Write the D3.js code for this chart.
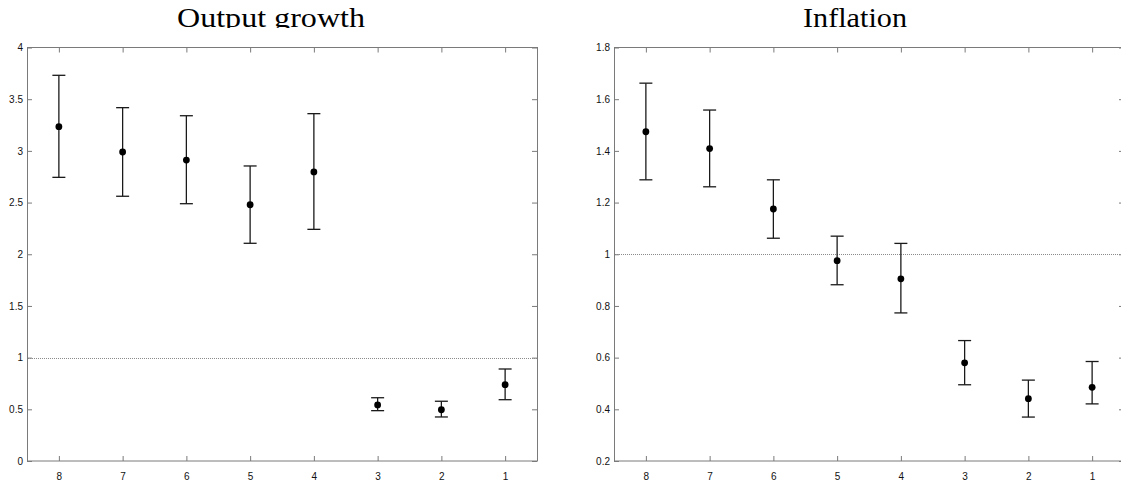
<!DOCTYPE html>
<html>
<head>
<meta charset="utf-8">
<script src="https://cdn.jsdelivr.net/npm/d3@7"></script>
<style>
  html, body { margin: 0; padding: 0; background: #fff; overflow: hidden; }
  svg { display: block; }
</style>
</head>
<body>
<svg id="chart" width="1121" height="485"></svg>
<script>
// ---------- data ----------
const categories = [8, 7, 6, 5, 4, 3, 2, 1];

const outputMean = [3.234, 2.989, 2.911, 2.479, 2.796, 0.542, 0.496, 0.738];
const outputLow  = [2.744, 2.561, 2.489, 2.106, 2.241, 0.487, 0.426, 0.593];
const outputHigh = [3.731, 3.418, 3.340, 2.854, 3.360, 0.612, 0.578, 0.890];

const inflationMean = [1.474, 1.409, 1.175, 0.975, 0.905, 0.580, 0.441, 0.485];
const inflationLow  = [1.288, 1.261, 1.062, 0.882, 0.773, 0.495, 0.370, 0.421];
const inflationHigh = [1.662, 1.558, 1.288, 1.070, 1.042, 0.666, 0.513, 0.585];

const outputTicks = [0, 0.5, 1, 1.5, 2, 2.5, 3, 3.5, 4];
const outputTickLabels = ["0", "0.5", "1", "1.5", "2", "2.5", "3", "3.5", "4"];
const inflationTicks = [0.2, 0.4, 0.6, 0.8, 1, 1.2, 1.4, 1.6, 1.8];
const inflationTickLabels = ["0.2", "0.4", "0.6", "0.8", "1", "1.2", "1.4", "1.6", "1.8"];

const titles = ["Output growth", "Inflation"];
const referenceValue = 1;

// ---------- layout ----------
const svg = d3.select("#chart");
const plotTop = 47.5, plotBottom = 461;
const tickFont = "'Liberation Sans', Arial, Helvetica, sans-serif";

svg.append("defs").append("clipPath").attr("id", "titleClip")
  .append("rect").attr("x", 0).attr("y", 0).attr("width", 1121).attr("height", 28);

function panel(opts) {
  const g = svg.append("g");
  const x = d3.scaleLinear().domain([8.5, 0.5]).range([opts.left, opts.left + opts.width]);
  const y = d3.scaleLinear().domain(opts.yDomain).range([plotBottom, plotTop]);

  // frame
  g.append("rect")
    .attr("x", opts.left + 0.5).attr("y", plotTop)
    .attr("width", opts.width).attr("height", plotBottom - plotTop)
    .attr("fill", "none").attr("stroke", "#7a7a7a").attr("stroke-width", 1);

  const styleAxis = sel => {
    sel.select(".domain").remove();
    sel.selectAll(".tick line").attr("stroke", "#7a7a7a");
    sel.selectAll(".tick text").attr("fill", "#111")
      .style("font-family", tickFont).style("font-size", "10px");
  };

  // bottom axis with labels
  g.append("g").attr("transform", `translate(0,${plotBottom})`)
    .call(d3.axisBottom(x).tickValues(categories).tickSize(-5).tickPadding(12)
      .tickFormat(d => String(d)))
    .call(styleAxis);
  // top axis (ticks only)
  g.append("g").attr("transform", `translate(0,${plotTop})`)
    .call(d3.axisTop(x).tickValues(categories).tickSize(-5).tickFormat(""))
    .call(styleAxis);
  // left axis with labels
  g.append("g").attr("transform", `translate(${opts.left},0)`)
    .call(d3.axisLeft(y).tickValues(opts.ticks).tickSize(-5).tickPadding(4)
      .tickFormat((d, i) => opts.tickLabels[i]))
    .call(styleAxis);
  // right axis (ticks only)
  g.append("g").attr("transform", `translate(${opts.left + opts.width},0)`)
    .call(d3.axisRight(y).tickValues(opts.ticks).tickSize(-5).tickFormat(""))
    .call(styleAxis);

  // reference dotted line
  g.append("line")
    .attr("x1", x.range()[0] + 1).attr("x2", x.range()[1])
    .attr("y1", Math.round(y(referenceValue)) + 0.5).attr("y2", Math.round(y(referenceValue)) + 0.5)
    .attr("stroke", "#8a8a8a").attr("stroke-width", 1).attr("stroke-dasharray", "1,1");

  const rows = categories.map((c, i) => ({c, m: opts.mean[i], lo: opts.low[i], hi: opts.high[i]}));
  const capHalf = 6.5;
  const eb = g.append("g").attr("stroke", "#1a1a1a").attr("stroke-width", 1.3);
  eb.selectAll("line.v").data(rows).join("line").attr("class", "v")
    .attr("x1", d => x(d.c)).attr("x2", d => x(d.c))
    .attr("y1", d => y(d.lo)).attr("y2", d => y(d.hi));
  eb.selectAll("line.top").data(rows).join("line").attr("class", "top")
    .attr("x1", d => x(d.c) - capHalf).attr("x2", d => x(d.c) + capHalf)
    .attr("y1", d => y(d.hi)).attr("y2", d => y(d.hi));
  eb.selectAll("line.bot").data(rows).join("line").attr("class", "bot")
    .attr("x1", d => x(d.c) - capHalf).attr("x2", d => x(d.c) + capHalf)
    .attr("y1", d => y(d.lo)).attr("y2", d => y(d.lo));
  g.append("g").selectAll("circle").data(rows).join("circle")
    .attr("cx", d => x(d.c)).attr("cy", d => y(d.m)).attr("r", 3.4)
    .attr("fill", "#000");

  // title (descenders clipped as in the original)
  svg.append("text")
    .attr("clip-path", "url(#titleClip)")
    .attr("x", opts.titleX).attr("y", 26.5)
    .attr("text-anchor", "middle")
    .attr("textLength", opts.titleLength).attr("lengthAdjust", "spacingAndGlyphs")
    .style("font-family", "'Liberation Serif', 'Times New Roman', serif")
    .style("font-size", "28px").attr("fill", "#000")
    .text(opts.title);
}

panel({
  left: 27, width: 510, yDomain: [0, 4],
  ticks: outputTicks, tickLabels: outputTickLabels,
  mean: outputMean, low: outputLow, high: outputHigh,
  title: titles[0], titleX: 271, titleLength: 188
});
panel({
  left: 614, width: 510, yDomain: [0.2, 1.8],
  ticks: inflationTicks, tickLabels: inflationTickLabels,
  mean: inflationMean, low: inflationLow, high: inflationHigh,
  title: titles[1], titleX: 855, titleLength: 104
});
</script>
</body>
</html>
